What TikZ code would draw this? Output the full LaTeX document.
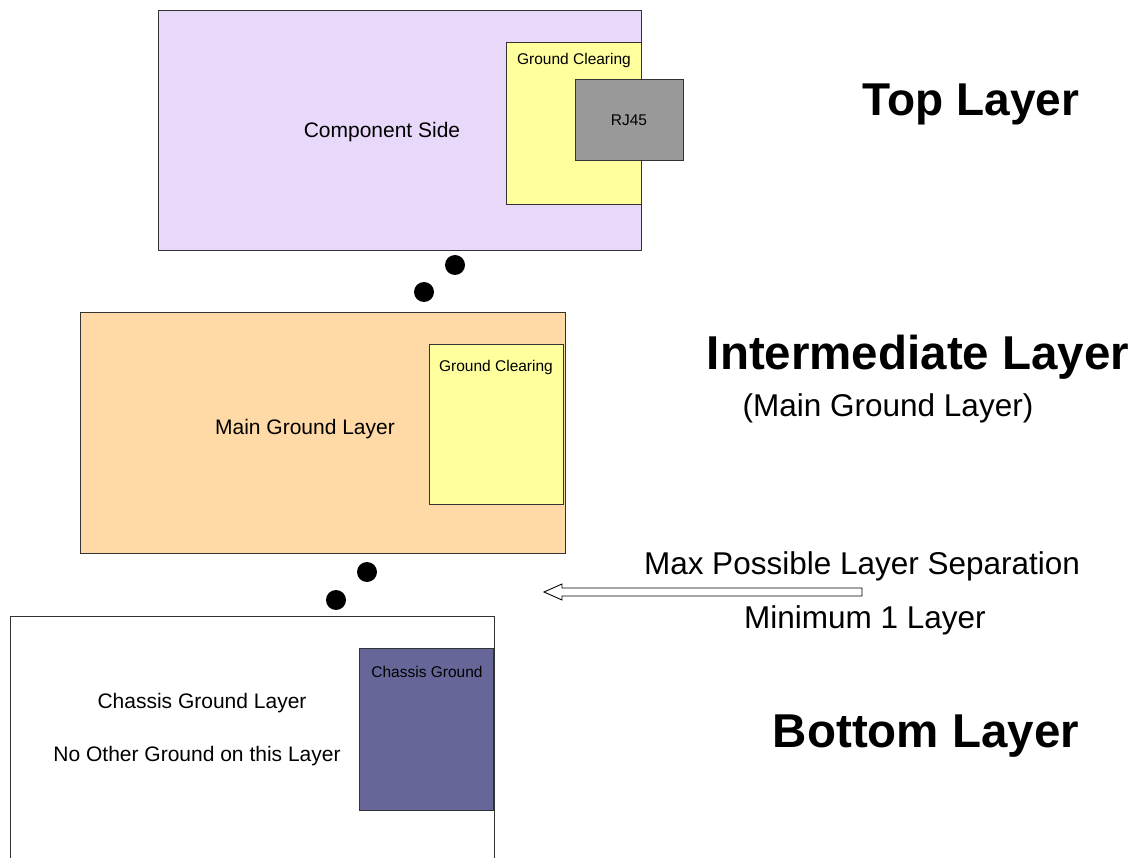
\documentclass[tikz,border=0pt]{standalone}
\usepackage{fontspec}
\usetikzlibrary{calc}
\setmainfont{Liberation Sans}
\definecolor{lav}{HTML}{E8D9FA}
\definecolor{peach}{HTML}{FFD9A6}
\definecolor{clr}{HTML}{FFFF9E}
\definecolor{rj}{HTML}{999999}
\definecolor{chas}{HTML}{666699}
\definecolor{edge}{HTML}{333333}
\tikzset{
  layerbox/.style={draw=edge, line width=0.9pt, anchor=north west, inner sep=0pt, minimum width=#1},
  via/.style={circle, fill=black, inner sep=0pt, minimum size=20pt},
  midtxt/.style={font=\fontsize{21}{25}\selectfont, inner sep=0pt},
  smalltxt/.style={font=\fontsize{15.5}{18}\selectfont, inner sep=0pt},
  bigtxt/.style={font=\fontsize{#1}{54}\selectfont\bfseries, inner sep=0pt},
  sidetxt/.style={font=\fontsize{31.5}{36}\selectfont, inner sep=0pt},
}
\begin{document}
\begin{tikzpicture}[x=1pt,y=-1pt]
\clip (0,0) rectangle (1138,858);
\useasboundingbox (0,0) rectangle (1138,858);
% top layer
\node[layerbox=483pt, minimum height=240pt, fill=lav] (top) at (158,10) {};
\node[layerbox=135pt, minimum height=162pt, fill=clr] (gc1) at (506,42) {};
\node[layerbox=108pt, minimum height=81pt, fill=rj] (rj) at (575,79) {};
\node[midtxt] (cs) at (382,132) {Component Side};
\node[smalltxt] (gc1t) at (574,60) {Ground Clearing};
\node[smalltxt] (rjt) at (629,120) {RJ45};
% vias
\node[via] (v1) at (455,265) {};
\node[via] (v2) at (424,292) {};
% intermediate
\node[layerbox=485pt, minimum height=241pt, fill=peach] (mid) at (80,312) {};
\node[layerbox=134pt, minimum height=160pt, fill=clr] (gc2) at (429,344) {};
\node[midtxt] (mgl) at (305,429) {Main Ground Layer};
\node[smalltxt] (gc2t) at (496,367) {Ground Clearing};
\node[via] (v3) at (367,572) {};
\node[via] (v4) at (336,600) {};
% bottom
\node[layerbox=484pt, minimum height=260pt, fill=white] (bot) at (10,616) {};
\node[layerbox=134pt, minimum height=162pt, fill=chas] (cg) at (359,648) {};
\node[midtxt] (cgl) at (202,703) {Chassis Ground Layer};
\node[midtxt] (nog) at (197,756) {No Other Ground on this Layer};
\node[smalltxt] (cgt) at (427,672) {Chassis Ground};
% right labels
\node[bigtxt=46] (tl) at (971,104) {Top Layer};
\node[bigtxt=47.5] (il) at (918,357) {Intermediate Layer};
\node[sidetxt] (ils) at (888,408) {(Main Ground Layer)};
\node[bigtxt=47.5] (bl) at (926,736) {Bottom Layer};
\node[sidetxt] (mps) at (862,566) {Max Possible Layer Separation};
\node[sidetxt] (m1) at (865,620) {Minimum 1 Layer};
% hollow arrow
\coordinate (atail) at (862,592);
\coordinate (atip) at (544,592);
\draw[line width=0.9pt, fill=white] ($(atail)+(0,-4)$) -- (562,588) -- (562,584) -- (atip) -- (562,600) -- (562,596) -- ($(atail)+(0,4)$) -- cycle;
\end{tikzpicture}
\end{document}
